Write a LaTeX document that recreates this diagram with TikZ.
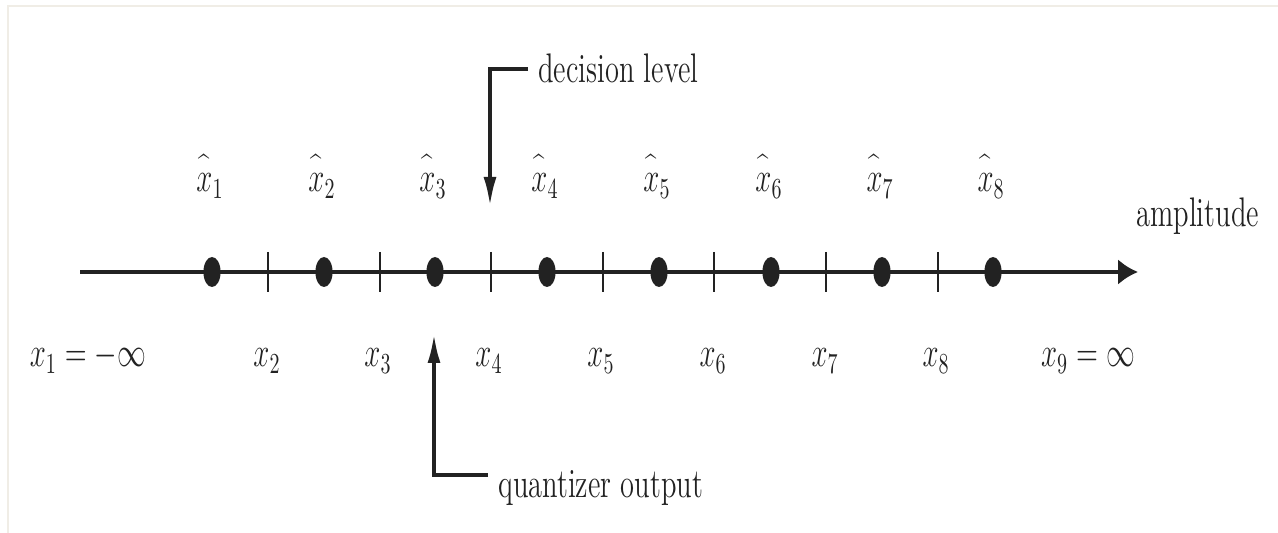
\documentclass[tikz,border=0pt]{standalone}
\usetikzlibrary{arrows.meta}
\definecolor{ink}{HTML}{222222}
\definecolor{edge}{HTML}{F0EDE6}
\newcommand{\vs}[1]{\scalebox{1}[1.45]{#1}}
\newcommand{\hx}[1]{\vs{$\widehat{\vphantom{l}x}_{#1}$}}
\begin{document}
\begin{tikzpicture}[x=0.5pt,y=-0.5pt,
  lbl/.style={inner sep=0pt, text=ink, font=\fontsize{14.25pt}{17pt}\selectfont, anchor=base},
  axisline/.style={draw=ink, line width=2.2pt},
  tickline/.style={draw=ink, line width=1.2pt},
  pointer/.style={draw=ink, line width=2pt, -{Latex[length=15pt,width=6.5pt]}},
  dotfill/.style={fill=ink}]
\useasboundingbox (0,0) rectangle (1278,533);
\draw[edge, line width=1pt] (8,533) -- (8,6) -- (1278,6);

% axis
\coordinate (ax0) at (80,272);
\coordinate (ax1) at (1138,272);
\draw[axisline, -{Latex[length=10pt,width=13pt]}] (ax0) -- (ax1);

% ticks (decision levels)
\foreach \x in {268,380,491,603,714,826,938}
  \draw[tickline] (\x,252) -- (\x,292);

% dots (quantizer outputs)
\foreach \x in {212,324,435,547,659,771,882,993}
  \fill[dotfill] (\x,272) ellipse [x radius=4.3pt, y radius=7.5pt];

% hat labels
\node[lbl] (h1) at (210,192) {\hx{1}};
\node[lbl] (h2) at (322,192) {\hx{2}};
\node[lbl] (h3) at (433,192) {\hx{3}};
\node[lbl] (h4) at (545,192) {\hx{4}};
\node[lbl] (h5) at (657,192) {\hx{5}};
\node[lbl] (h6) at (769,192) {\hx{6}};
\node[lbl] (h7) at (880,192) {\hx{7}};
\node[lbl] (h8) at (991,192) {\hx{8}};

% decision level labels
\node[lbl] (x1) at (88,367) {\vs{$x_1=-\infty$}};
\node[lbl] (x2) at (267,367) {\vs{$x_2$}};
\node[lbl] (x3) at (378,367) {\vs{$x_3$}};
\node[lbl] (x4) at (489,367) {\vs{$x_4$}};
\node[lbl] (x5) at (601,367) {\vs{$x_5$}};
\node[lbl] (x6) at (713,367) {\vs{$x_6$}};
\node[lbl] (x7) at (825,367) {\vs{$x_7$}};
\node[lbl] (x8) at (936,367) {\vs{$x_8$}};
\node[lbl] (x9) at (1088,367) {\vs{$x_9=\infty$}};

\node[lbl, anchor=base west] (amp) at (1136,227) {\vs{amplitude}};

% decision level pointer
\node[lbl, anchor=base west] (dl) at (538,83) {\vs{decision level}};
\coordinate (dtip) at (490,207);
\draw[pointer] ([shift={(-10,0)}]dl.west) -| (dtip);

% quantizer output pointer
\node[lbl, anchor=base west] (qo) at (498,497) {\vs{quantizer output}};
\coordinate (qtip) at (434,333);
\draw[pointer] ([shift={(-10,-22)}]qo.base west) -| (qtip);
\end{tikzpicture}
\end{document}
